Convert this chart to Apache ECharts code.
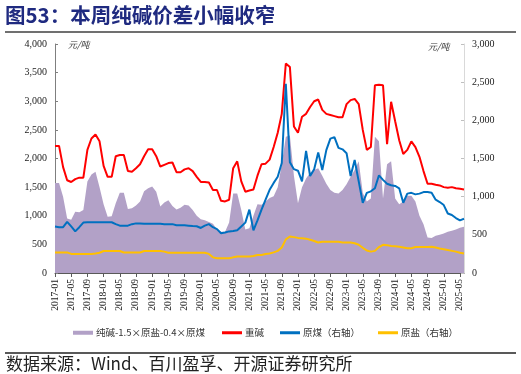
<!DOCTYPE html>
<html><head><meta charset="utf-8">
<script src="https://cdn.jsdelivr.net/npm/echarts@6/dist/echarts.min.js"></script>
<style>html,body{margin:0;padding:0;background:#fff}#c{width:521px;height:374px}</style>
</head><body><div id="c"></div>
<script>
// Monthly categories 2017-01 .. 2025-06
const months = [];
for (let y = 2017; y <= 2025; y++) for (let m = 1; m <= 12; m++) { if (y === 2025 && m > 6) break; months.push(y + '-' + String(m).padStart(2, '0')); }

// 纯碱-1.5×原盐-0.4×原煤 (left axis)
const spread = [1570,1570,1330,950,930,1070,1060,1100,1600,1720,1770,1500,
1200,983,990,1220,1400,1400,1120,1130,1180,1250,1430,1480,
1510,1420,1160,1230,1270,1170,1110,1140,1190,1180,1100,1000,
940,920,890,860,760,720,720,880,1390,1390,1100,760,
780,1000,1200,1190,1250,1310,1340,1500,1900,2380,2400,1700,
1220,1500,1650,1750,1800,1830,1700,1560,1450,1400,1390,1450,
1550,1680,1800,1950,1400,1250,1300,2380,2300,1300,1900,1950,
1300,1200,1250,1350,1350,1250,1000,850,620,610,650,670,
690,720,740,760,790,810];
// 重碱 (left axis)
const heavyAsh = [2220,2220,1850,1620,1590,1640,1665,1665,2150,2350,2420,2300,
1870,1680,1680,2040,2060,2060,1780,1770,1830,1900,2040,2160,
2160,2040,1860,1890,1920,1930,1760,1760,1810,1830,1780,1680,
1590,1590,1580,1450,1450,1260,1250,1280,1830,1950,1600,1420,
1440,1460,1700,1900,1910,1980,2200,2450,2780,3660,3600,2560,
2450,2730,2780,2900,3000,3030,2850,2780,2760,2740,2720,2720,
2950,3020,3040,2950,2500,2150,2200,3280,3290,3280,2250,2990,
2650,2320,2080,2150,2300,2200,2030,1780,1560,1560,1540,1530,
1500,1490,1500,1480,1470,1460];
// 原煤（右轴）
const coal = [610,600,600,670,610,545,600,660,665,665,665,665,
665,665,665,640,620,620,620,640,650,650,645,645,
645,645,645,640,640,640,625,625,625,620,615,612,
590,620,640,600,575,520,530,545,550,560,610,660,
830,560,690,830,960,1090,1180,1260,1440,2480,1450,1360,
1340,1200,1600,1270,1360,1580,1350,1610,1760,1780,1640,1620,
1570,1270,1480,1200,920,1050,1070,1110,1280,1220,1170,1150,
1140,1110,920,1040,1050,1030,1040,1060,1060,1050,960,930,
890,780,760,720,690,710];
// 原盐（右轴）
const salt = [270,270,270,270,250,250,250,250,250,250,255,265,
288,288,288,288,288,268,268,268,268,268,288,288,
288,288,288,280,266,266,266,266,266,266,266,266,
266,266,250,205,192,192,192,192,205,215,215,215,
215,222,235,235,248,255,270,290,335,440,478,470,
460,455,450,435,420,400,410,410,410,410,410,400,
400,400,390,370,330,295,280,290,340,370,365,355,
350,345,335,325,325,340,340,340,340,345,335,320,
310,300,290,280,265,255];

const seriesNames = ['纯碱-1.5×原盐-0.4×原煤', '重碱', '原煤（右轴）', '原盐（右轴）'];
const seriesColors = ['#B2A1C7', '#FF0000', '#0070C0', '#FFC000'];

const serif = '"Liberation Serif","Times New Roman",serif';
const cjk = '"Noto Sans CJK SC","Noto Sans",sans-serif';
const fmt = v => v.toLocaleString('en-US');

const legendLefts = [68, 217, 275, 373];
const legends = seriesNames.map((n, i) => ({
  left: legendLefts[i], top: 323, itemWidth: 20, itemHeight: i === 0 ? 4 : 3, itemGap: 0,
  textStyle: {fontFamily: cjk, fontSize: 9.5, color: '#333', padding: [0, 0, 0, -2]},
  data: [{name: n, icon: 'rect'}]
}));

const chart = echarts.init(document.getElementById('c'), null, {renderer: 'canvas'});
chart.setOption({
  animation: false,
  backgroundColor: '#fff',
  grid: {left: 55, right: 57, top: 44, bottom: 101},
  legend: legends,
  xAxis: {
    type: 'category', data: months, boundaryGap: false,
    axisLine: {lineStyle: {color: '#595959', width: 1}},
    axisTick: {interval: 3, length: 4, lineStyle: {color: '#595959'}},
    axisLabel: {interval: 3, rotate: 90, margin: 6, fontFamily: serif, fontSize: 9.5, color: '#222'}
  },
  yAxis: [
    {type: 'value', min: 0, max: 4000, interval: 500,
     axisLine: {show: true, lineStyle: {color: '#7f7f7f'}},
     axisTick: {show: true, inside: true, length: 3, lineStyle: {color: '#7f7f7f'}},
     splitLine: {show: false},
     axisLabel: {formatter: fmt, fontFamily: serif, fontSize: 10, color: '#222', margin: 8}},
    {type: 'value', min: 0, max: 3000, interval: 500, position: 'right',
     axisLine: {show: true, lineStyle: {color: '#d9d9d9'}},
     axisTick: {show: true, inside: true, length: 3, lineStyle: {color: '#bfbfbf'}},
     splitLine: {show: false},
     axisLabel: {formatter: fmt, fontFamily: serif, fontSize: 10, color: '#222', margin: 8}}
  ],
  series: [
    {name: seriesNames[0], type: 'line', yAxisIndex: 0, data: spread, showSymbol: false,
     lineStyle: {width: 0}, itemStyle: {color: seriesColors[0]}, areaStyle: {color: seriesColors[0], opacity: 1}, z: 1},
    {name: seriesNames[1], type: 'line', yAxisIndex: 0, data: heavyAsh, showSymbol: false,
     lineStyle: {width: 2, color: seriesColors[1]}, itemStyle: {color: seriesColors[1]}, z: 3},
    {name: seriesNames[2], type: 'line', yAxisIndex: 1, data: coal, showSymbol: false,
     lineStyle: {width: 2, color: seriesColors[2]}, itemStyle: {color: seriesColors[2]}, z: 3},
    {name: seriesNames[3], type: 'line', yAxisIndex: 1, data: salt, showSymbol: false,
     lineStyle: {width: 2, color: seriesColors[3]}, itemStyle: {color: seriesColors[3]}, z: 3}
  ],
  graphic: [
    {type: 'text', left: 5, top: 5, style: {text: '图53：本周纯碱价差小幅收窄', font: 'bold 20.5px ' + cjk, fill: '#1F2A80'}},
    {type: 'line', shape: {x1: 5, y1: 32, x2: 516, y2: 32}, style: {stroke: '#404040', lineWidth: 1.5}},
    {type: 'text', left: 68, top: 40, style: {text: '元/吨', font: 'italic 9px ' + cjk, fill: '#333'}},
    {type: 'text', left: 428, top: 42, style: {text: '元/吨', font: 'italic 9px ' + cjk, fill: '#333'}},
    {type: 'line', shape: {x1: 5, y1: 353, x2: 516, y2: 353}, style: {stroke: '#595959', lineWidth: 2}},
    {type: 'text', left: 6, top: 355, style: {text: '数据来源：Wind、百川盈孚、开源证券研究所', font: '17px ' + cjk, fill: '#222'}}
  ]
});
</script></body></html>
